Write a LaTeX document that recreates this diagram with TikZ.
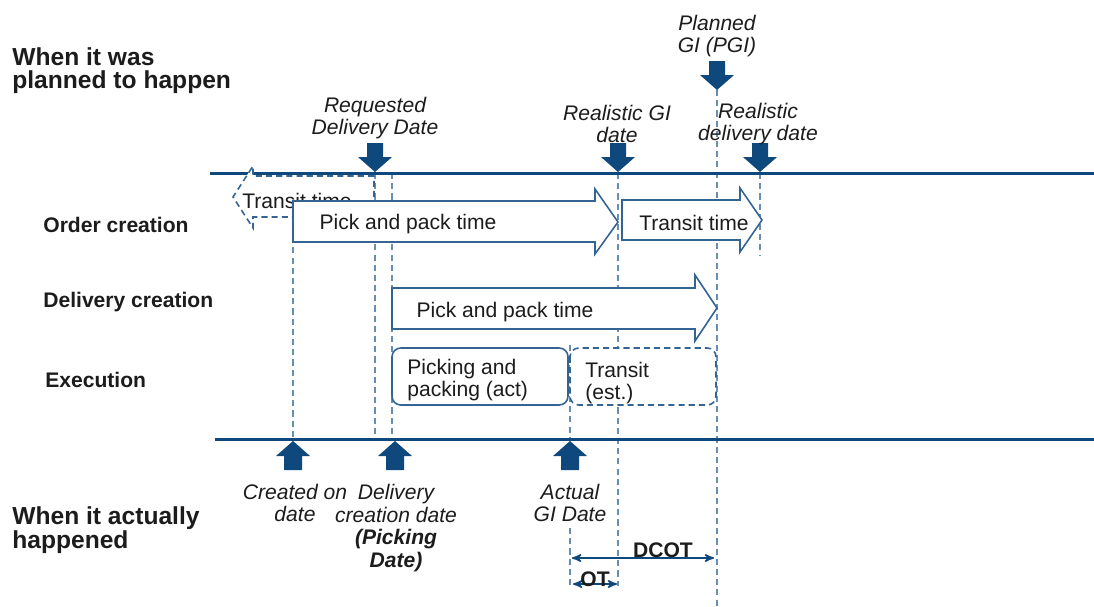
\documentclass[tikz,border=0pt]{standalone}
\usepackage{fontspec}
\setmainfont{Liberation Sans}
\usetikzlibrary{arrows,positioning}

\definecolor{darkblue}{RGB}{14,72,124}
\definecolor{midblue}{RGB}{52,100,148}
\definecolor{lightblue}{RGB}{104,142,180}
\definecolor{txtgray}{RGB}{28,28,28}

\begin{document}
\begin{tikzpicture}[x=0.02cm,y=-0.02cm,
    timeline/.style={darkblue,line width=1.7pt},
    guide/.style={lightblue,line width=1.1pt,dash pattern=on 3.5pt off 2.3pt},
    blockarrow/.style={midblue,line width=0.9pt,fill=white,line join=miter},
    rowlabel/.style={anchor=west,align=left,inner sep=0,txtgray,font=\fontsize{12}{13}\selectfont\bfseries},
    sidelabel/.style={anchor=west,align=left,inner sep=0,txtgray,font=\fontsize{14}{13}\selectfont\bfseries},
    datelabel/.style={align=center,inner sep=0,txtgray,font=\fontsize{12}{13}\selectfont\itshape},
    boxtext/.style={inner sep=0,txtgray,font=\fontsize{12}{13}\selectfont},
    dimline/.style={darkblue,line width=0.9pt,stealth'-stealth'}]
  \useasboundingbox (0,0) rectangle (1094,606);

  % vertical guides
  \foreach \x/\a/\b in {293/176/439,375/173/437,392/173/439,570/345/439,570/528/586,
                        618/173/586,717/90/606,760/173/256} {
    \draw[guide] (\x,\a) -- (\x,\b);
  }

  % planned and actual time lines
  \draw[timeline] (210,173) -- (1094,173);
  \draw[timeline] (215,439) -- (1094,439);

  % markers on the planned line
  \foreach \x/\t in {375/143,618/143,760/143,717/61} {
    \fill[darkblue] (\x-8,\t) -- (\x+8,\t) -- (\x+8,\t+14) -- (\x+17,\t+14)
      -- (\x,\t+29) -- (\x-17,\t+14) -- (\x-8,\t+14) -- cycle;
  }
  % markers on the actual line
  \foreach \x in {293,395,570} {
    \fill[darkblue] (\x,441) -- (\x+17,456) -- (\x+9,456) -- (\x+9,470)
      -- (\x-9,470) -- (\x-9,456) -- (\x-17,456) -- cycle;
  }

  % order creation
  \draw[blockarrow,dash pattern=on 3.5pt off 2.3pt] (374,176) -- (253,176) -- (253,166) -- (233,197)
    -- (253,228) -- (253,217) -- (374,217) -- cycle;
  \node[boxtext] (transitback) at (297,201) {Transit time};
  \draw[blockarrow] (293,201) -- (595,201) -- (595,189) -- (618,222) -- (595,254)
    -- (595,242) -- (293,242) -- cycle;
  \node[boxtext] (pickorder) at (408,224) {Pick and pack time};
  \draw[blockarrow] (622,200) -- (740,200) -- (740,188) -- (762,220) -- (740,252)
    -- (740,240) -- (622,240) -- cycle;
  \node[boxtext] (transitorder) at (694,223) {Transit time};

  % delivery creation
  \draw[blockarrow] (392,288) -- (695,288) -- (695,275) -- (717,308) -- (695,341)
    -- (695,329) -- (392,329) -- cycle;
  \node[boxtext] (pickdelivery) at (505,312) {Pick and pack time};

  % execution
  \draw[midblue,line width=0.9pt,fill=white,rounded corners=5pt] (392,348) rectangle (568,405);
  \node[boxtext,anchor=west,align=left] (pickact) at (407,380) {Picking and\\packing (act)};
  \draw[midblue,line width=0.9pt,fill=white,rounded corners=5pt,dash pattern=on 3.5pt off 2.3pt]
    (570,348) rectangle (716,405);
  \node[boxtext,anchor=west,align=left] (transitest) at (585,383) {Transit\\(est.)};

  % row labels
  \node[sidelabel] (planned) at (12,71) {When it was\\planned to happen};
  \node[rowlabel] (ordercr) at (43,225) {Order creation};
  \node[rowlabel] (deliverycr) at (43,302) {Delivery creation};
  \node[rowlabel] (execution) at (45,380) {Execution};
  \node[sidelabel] (actual) at (12,530) {When it actually\\happened};

  % date labels
  \node[datelabel] (pgi) at (717,36) {Planned\\GI (PGI)};
  \node[datelabel] (rdd) at (375,118) {Requested\\Delivery Date};
  \node[datelabel] (rgi) at (617,124) {Realistic GI\\date};
  \node[datelabel] (rdl) at (758,124) {Realistic\\delivery date};
  \node[datelabel] (createdon) at (295,503) {Created on\\date};
  \node[datelabel] (delivdate) at (396,528) {Delivery\\creation date\\\textbf{(Picking}\\\textbf{Date)}};
  \node[datelabel] (agi) at (570,503) {Actual\\GI Date};

  % durations
  \coordinate (dcotL) at (572,558);
  \coordinate (dcotR) at (714,558);
  \coordinate (otL) at (573,584);
  \coordinate (otR) at (617,584);
  \draw[dimline] (dcotL) -- (dcotR);
  \draw[dimline] (otL) -- (otR);
  \node[boxtext,font=\fontsize{12}{13}\selectfont\bfseries] (dcot) at (663,550) {DCOT};
  \node[boxtext,font=\fontsize{12}{13}\selectfont\bfseries] (ot) at (595,579) {OT};
\end{tikzpicture}
\end{document}
